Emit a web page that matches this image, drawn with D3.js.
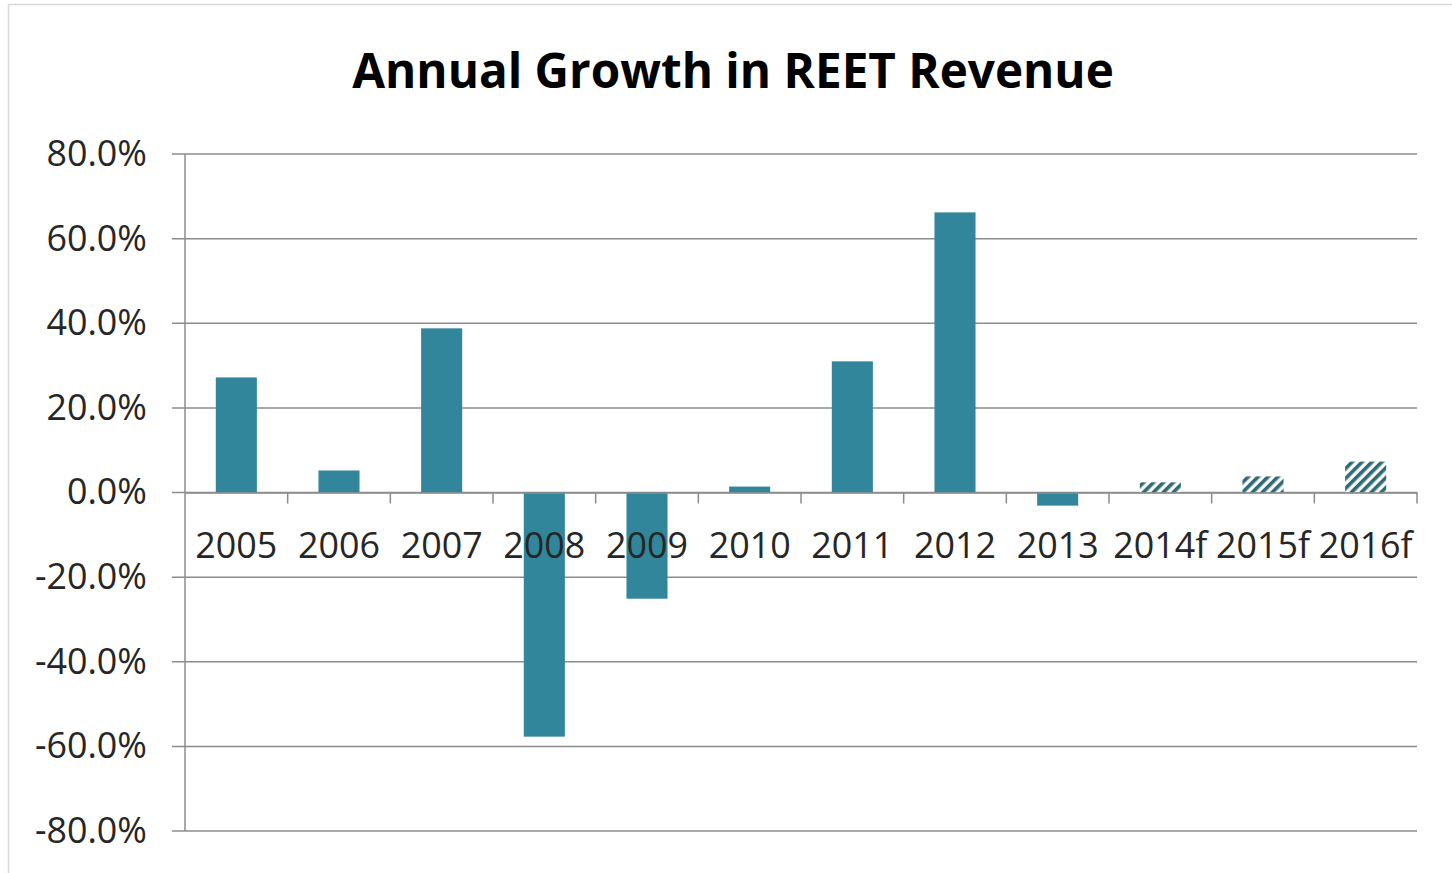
<!DOCTYPE html>
<html>
<head>
<meta charset="utf-8">
<script src="https://cdn.jsdelivr.net/npm/d3@7"></script>
<style>
  html, body { margin: 0; padding: 0; background: #fff; }
  svg { display: block; }
</style>
</head>
<body>
<svg id="chart" width="1452" height="873"></svg>
<script>
const categories = ["2005", "2006", "2007", "2008", "2009", "2010", "2011", "2012", "2013", "2014f", "2015f", "2016f"];
const growth = [27.2, 5.2, 38.8, -57.7, -25.1, 1.4, 31.0, 66.2, -3.1, 2.4, 3.8, 7.3];
const forecast = [false, false, false, false, false, false, false, false, false, true, true, true];
const yTicks = [-80, -60, -40, -20, 0, 20, 40, 60, 80];
const title = "Annual Growth in REET Revenue";

const font = "'Open Sans', sans-serif";
const svg = d3.select("#chart");
const W = 1452, H = 873;

// size a font so that a sample string spans the given width
function fitSize(text, weight, width) {
  const t = svg.append("text").attr("font-family", font).attr("font-weight", weight)
    .attr("font-size", 100).text(text);
  const w = t.node().getComputedTextLength();
  t.remove();
  return 100 * width / w;
}

// chart frame
svg.append("rect")
  .attr("x", 8.5).attr("y", 4.5)
  .attr("width", W - 6).attr("height", H)
  .attr("fill", "#fff").attr("stroke", "#d9d9d9").attr("stroke-width", 1.5);

const plot = { left: 185, right: 1417, top: 154, bottom: 831 };

const x = d3.scaleBand().domain(categories).range([plot.left, plot.right]).paddingInner(0.6).paddingOuter(0.3);
const xCat = d3.scaleBand().domain(categories).range([plot.left, plot.right]);
const y = d3.scaleLinear().domain([-80, 80]).range([plot.bottom, plot.top]);

// hatch for forecast years
const defs = svg.append("defs");
const pat = defs.append("pattern")
  .attr("id", "hatch").attr("patternUnits", "userSpaceOnUse")
  .attr("width", 7).attr("height", 7)
  .attr("patternTransform", "rotate(45)");
pat.append("rect").attr("width", 7).attr("height", 7).attr("fill", "#fff");
pat.append("rect").attr("x", 0).attr("width", 3.6).attr("height", 7).attr("fill", "#2e6a78");

// title
svg.append("text")
  .attr("x", 733).attr("y", 88)
  .attr("text-anchor", "middle")
  .attr("font-family", font).attr("font-weight", "bold")
  .attr("font-size", fitSize(title, "bold", 762)).attr("fill", "#000")
  .text(title);

const labelSize = fitSize("2005", "normal", 82);

// horizontal gridlines
svg.append("g").selectAll("line").data(yTicks).join("line")
  .attr("x1", plot.left - 13).attr("x2", plot.right)
  .attr("y1", d => y(d)).attr("y2", d => y(d))
  .attr("stroke", "#8c8c8c").attr("stroke-width", 1.5);

// y axis labels
const yAxis = d3.axisLeft(y).tickValues(yTicks).tickSize(0).tickPadding(38)
  .tickFormat(d => d3.format(".1f")(d).replace("\u2212", "-") + "%");
const gy = svg.append("g").attr("transform", `translate(${plot.left},0)`).call(yAxis);
gy.select(".domain").remove();
gy.selectAll("text")
  .attr("font-family", font).attr("font-size", labelSize).attr("fill", "#262626");

// y axis line
svg.append("line")
  .attr("x1", plot.left).attr("x2", plot.left)
  .attr("y1", plot.top).attr("y2", plot.bottom)
  .attr("stroke", "#8c8c8c").attr("stroke-width", 1.5);

// bars
svg.append("g").selectAll("rect").data(categories).join("rect")
  .attr("x", d => x(d))
  .attr("width", x.bandwidth())
  .attr("y", (d, i) => y(Math.max(0, growth[i])))
  .attr("height", (d, i) => Math.abs(y(growth[i]) - y(0)))
  .attr("fill", (d, i) => forecast[i] ? "url(#hatch)" : "#31869b");

// x axis line with ticks between categories
const xAxis = d3.axisBottom(xCat).tickSize(0).tickFormat("");
const gx = svg.append("g").attr("transform", `translate(0,${y(0)})`).call(xAxis);
gx.select(".domain").attr("stroke", "#8c8c8c").attr("stroke-width", 1.5);
svg.append("g").selectAll("line").data(categories).join("line")
  .attr("x1", d => xCat(d) + xCat.bandwidth()).attr("x2", d => xCat(d) + xCat.bandwidth())
  .attr("y1", y(0)).attr("y2", y(0) + 11)
  .attr("stroke", "#8c8c8c").attr("stroke-width", 1.5);

// category labels
svg.append("g").selectAll("text").data(categories).join("text")
  .attr("x", d => xCat(d) + xCat.bandwidth() / 2)
  .attr("y", 558)
  .attr("text-anchor", "middle")
  .attr("font-family", font).attr("font-size", labelSize).attr("fill", "#262626")
  .text(d => d);
</script>
</body>
</html>
